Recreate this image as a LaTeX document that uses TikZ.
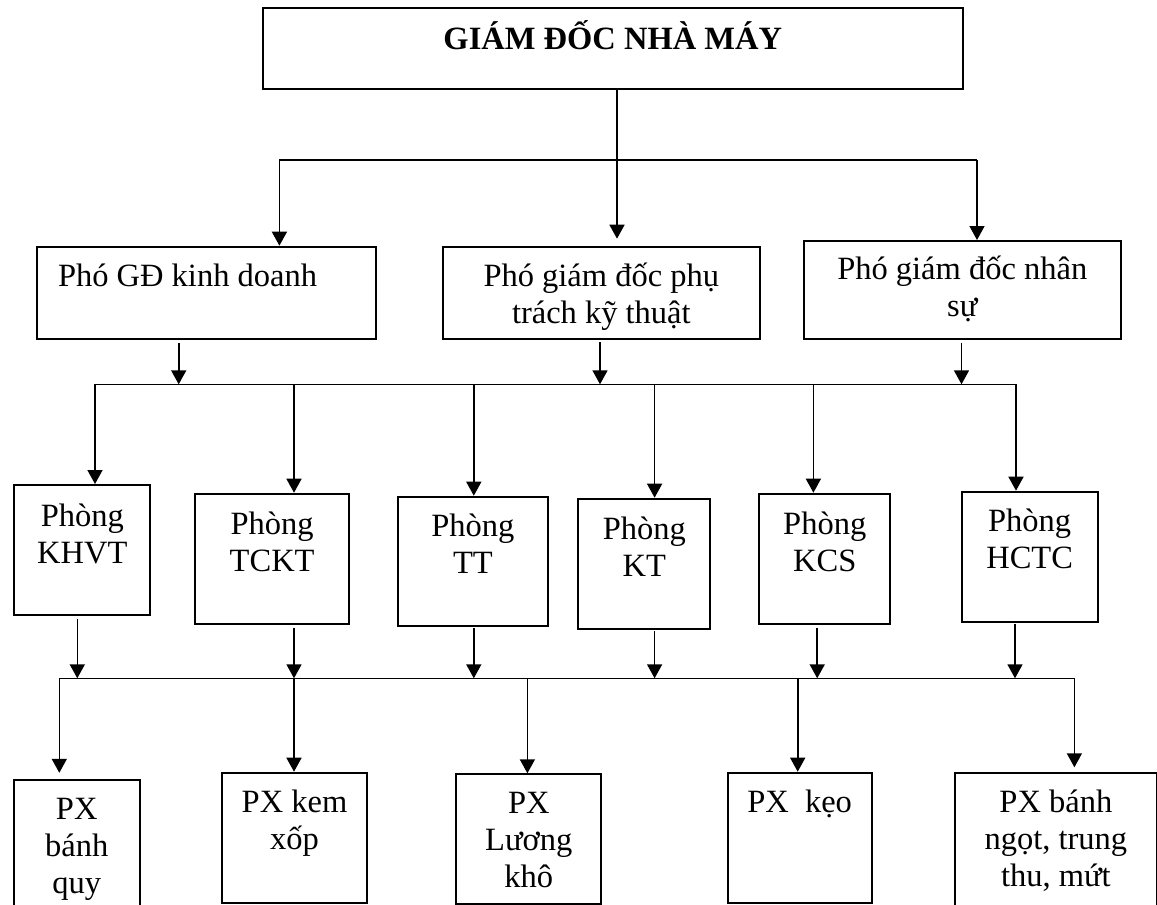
\documentclass[tikz,border=0pt]{standalone}
\usepackage{fontspec}
\setmainfont{Liberation Serif}
\usetikzlibrary{arrows.meta}
% text block of given width/height, first baseline #3 below the top edge
\newcommand{\boxtext}[4]{\parbox[t][#2][t]{#1}{\centering\rule{0pt}{#3}#4}}
\tikzset{
  box/.style={draw, line width=2pt, inner sep=0pt, anchor=north west,
    font=\fontsize{32.5}{37}\selectfont},
  link/.style={line width=1.6pt},
  arr/.style={link, -{Triangle[length=14pt,width=15pt]}},
}
\begin{document}
\begin{tikzpicture}[x=1pt,y=-1pt]
\fill[white] (0,0) rectangle (1157,905);
\clip (0,0) rectangle (1157,905);

% director
\node[box] (gd) at (262,6.7)
  {\boxtext{699.5pt}{81.6pt}{41.6pt}{\textbf{GIÁM ĐỐC NHÀ MÁY}}};

% deputy directors
\node[box] (pkd) at (36,245.7)
  {\parbox[t][92.6pt][t]{339pt}{\raggedright\hspace*{21pt}\rule{0pt}{39.3pt}Phó GĐ kinh doanh}};
\node[box] (pkt) at (442,245.7)
  {\boxtext{316.7pt}{92.6pt}{39.3pt}{Phó giám đốc phụ\\trách kỹ thuật}};
\node[box] (pns) at (803,240)
  {\boxtext{316.6pt}{97.7pt}{38.3pt}{Phó giám đốc nhân\\sự}};

% departments
\node[box] (khvt) at (13.4,484)   {\boxtext{135.9pt}{130pt}{41pt}{Phòng\\KHVT}};
\node[box] (tckt) at (194,492.7)  {\boxtext{154.3pt}{130pt}{40.6pt}{Phòng\\TCKT}};
\node[box] (tt)   at (397.2,495.7){\boxtext{149.3pt}{129.6pt}{39.3pt}{Phòng\\TT}};
\node[box] (kt)   at (577.3,497.7){\boxtext{132pt}{130.3pt}{40.6pt}{Phòng\\KT}};
\node[box] (kcs)  at (758.3,492.7){\boxtext{130.9pt}{130pt}{40.6pt}{Phòng\\KCS}};
\node[box] (hctc) at (960.7,490.7){\boxtext{135.9pt}{130pt}{39.3pt}{Phòng\\HCTC}};

% workshops
\node[box] (pxq) at (12.6,779.3)  {\boxtext{126.3pt}{140pt}{39pt}{PX\\bánh\\quy}};
\node[box] (pxk) at (221.2,771.7) {\boxtext{144.7pt}{130pt}{40pt}{PX kem\\xốp}};
\node[box] (pxl) at (455.4,773.3) {\boxtext{144.8pt}{130pt}{39.4pt}{PX\\Lương\\khô}};
\node[box] (pxc) at (726.5,771.7) {\boxtext{144.3pt}{130pt}{40pt}{PX\ \ kẹo}};
\node[box] (pxb) at (953.9,771.7) {\boxtext{202pt}{140pt}{40pt}{PX bánh\\ngọt, trung\\thu, mứt}};

% bus lines
\coordinate (b1l) at (279.4,160);
\coordinate (b1m) at (617,160);
\coordinate (b1r) at (977,160);
\coordinate (b2l) at (95,384.3);
\coordinate (b2r) at (1016,384.3);
\coordinate (b3l) at (59.3,678.3);
\coordinate (b3r) at (1074.4,678.3);

\draw[link] (b1l) -- (b1r);
\draw[link] (b2l) -- (b2r);
\draw[link] (b3l) -- (b3r);

% director -> deputies
\draw[arr, shorten >=7pt] (gd.south -| b1m) -- (pkt.north -| b1m);
\draw[arr] (b1l) -- (pkd.north -| b1l);
\draw[arr] (b1r) -- (pns.north -| b1r);

% deputies -> bus 2
\coordinate (a1) at (178.7,384.3);
\coordinate (a2) at (600,384.3);
\coordinate (a3) at (961.5,384.3);
\draw[arr, shorten <=3pt] (pkd.south -| a1) -- (a1);
\draw[arr, shorten <=2pt] (pkt.south -| a2) -- (a2);
\draw[arr, shorten <=3pt] (pns.south -| a3) -- (a3);

% bus 2 -> departments
\coordinate (d2) at (294,384.3);
\coordinate (d3) at (473.8,384.3);
\coordinate (d4) at (654.6,384.3);
\coordinate (d5) at (813.4,384.3);
\draw[arr] (b2l) -- (khvt.north -| b2l);
\draw[arr] (d2) -- (tckt.north -| d2);
\draw[arr] (d3) -- (tt.north -| d3);
\draw[arr] (d4) -- (kt.north -| d4);
\draw[arr] (d5) -- (kcs.north -| d5);
\draw[arr] (b2r) -- (hctc.north -| b2r);

% departments -> bus 3
\coordinate (e1) at (77.3,678.3);
\coordinate (e2) at (294,678.3);
\coordinate (e3) at (473.8,678.3);
\coordinate (e4) at (654.6,678.3);
\coordinate (e5) at (817.2,678.3);
\coordinate (e6) at (1015,678.3);
\draw[arr, shorten <=3pt] (khvt.south -| e1) -- (e1);
\draw[arr, shorten <=3pt] (tckt.south -| e2) -- (e2);
\draw[arr, shorten <=1pt] (tt.south -| e3) -- (e3);
\draw[arr, shorten <=1pt] (kt.south -| e4) -- (e4);
\draw[arr, shorten <=3pt] (kcs.south -| e5) -- (e5);
\draw[arr, shorten <=1pt] (hctc.south -| e6) -- (e6);

% bus 3 -> workshops
\coordinate (f3) at (527.4,678.3);
\coordinate (f4) at (797.7,678.3);
\draw[arr, shorten >=6.5pt] (b3l) -- (pxq.north -| b3l);
\draw[arr] (e2) -- (pxk.north -| e2);
\draw[arr] (f3) -- (pxl.north -| f3);
\draw[arr] (f4) -- (pxc.north -| f4);
\draw[arr, shorten >=4.4pt] (b3r) -- (pxb.north -| b3r);
\end{tikzpicture}
\end{document}
